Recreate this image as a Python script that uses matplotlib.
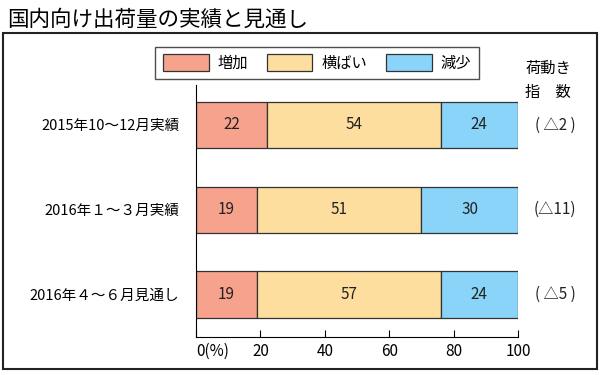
import matplotlib.pyplot as plt
from matplotlib.patches import Patch, Rectangle
import numpy as np

plt.rcParams['font.family'] = ['Noto Sans CJK JP', 'DejaVu Sans']

periods = ['2015年10〜12月実績', '2016年１〜３月実績', '2016年４〜６月見通し']
series = ['増加', '横ばい', '減少']
zouka = [22, 19, 19]
yokobai = [54, 51, 57]
genshou = [24, 30, 24]
index_labels = ['( △2 )', '(△11)', '( △5 )']
colors = ['#F7A28C', '#FDDE9E', '#89D4F8']

fig = plt.figure(figsize=(6, 3.75), dpi=100)
ax = fig.add_axes([196/600, 1 - 337/375, 322/600, 252/375])

y = np.arange(len(periods))
left = np.zeros(len(periods))
for vals, c in zip([zouka, yokobai, genshou], colors):
    vals = np.array(vals)
    ax.barh(y, vals, left=left, height=0.545, color=c, edgecolor='#333333', linewidth=0.9)
    for yi, l, v in zip(y, left, vals):
        ax.text(l + v / 2, yi, str(v), ha='center', va='center', fontsize=11, color='#222222')
    left = left + vals

ax.set_xlim(0, 100)
ax.set_ylim(2.5, -0.47)
ax.set_yticks(y)
ax.set_yticklabels(periods, fontsize=10.5)
ax.tick_params(axis='y', length=0, pad=12)
ax.set_xticks([0, 20, 40, 60, 80, 100])
ax.set_xticklabels(['0(%)', '20', '40', '60', '80', '100'], fontsize=11)
ax.get_xticklabels()[0].set_ha('left')
ax.tick_params(axis='x', direction='in', length=5, pad=4)
for s in ['top', 'right']:
    ax.spines[s].set_visible(False)

for yi, t in zip(y, index_labels):
    ax.text(1.115, yi, t, transform=ax.get_yaxis_transform(), ha='center', va='center', fontsize=11, color='#222222')

fig.text(548/600, 1 - 68/375, '荷動き', ha='center', va='center', fontsize=11)
fig.text(548/600, 1 - 92/375, '指　数', ha='center', va='center', fontsize=11)

handles = [Patch(facecolor=c, edgecolor='#333333', linewidth=0.9) for c in colors]
leg = fig.legend(handles, series, ncol=3, loc='center', bbox_to_anchor=(317/600, 1 - 63/375),
                 fontsize=11, frameon=True, fancybox=False, edgecolor='#222222',
                 handlelength=3.0, handleheight=1.3, columnspacing=1.2, handletextpad=0.6,
                 borderpad=0.5)
leg.get_frame().set_linewidth(1.0)

fig.text(7/600, 1 - 20/375, '国内向け出荷量の実績と見通し', ha='left', va='center', fontsize=15.5)
fig.add_artist(Rectangle((3/600, 1 - 369/375), 594/600, 336/375, transform=fig.transFigure,
                         fill=False, edgecolor='#222222', linewidth=1.5))

fig.savefig('out.png', dpi=100)
